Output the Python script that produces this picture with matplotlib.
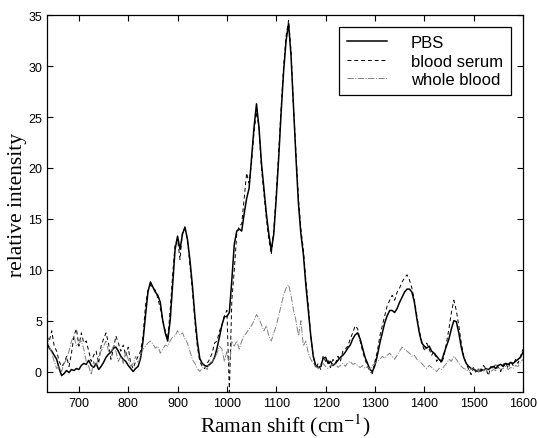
import matplotlib
matplotlib.use("Agg")
import matplotlib.pyplot as plt
import numpy as np

# Raman shift grid, 5 cm^-1 steps (635 .. 1600)
shift = np.arange(635, 1601, 5)

pbs = [
    2.8, 2.3, 2.0, 1.6, 1.2, 0.3, -0.4, -0.2, 0.1, -0.1,      # 635
    0.2, 0.1, 0.3, 0.2, 0.6, 0.8, 0.7, 1.1, 0.6, 0.4,         # 685
    0.8, 0.2, 0.5, 0.9, 1.4, 1.7, 1.9, 2.3, 2.4, 2.0,         # 735
    1.5, 1.2, 1.0, 0.6, 0.3, 0.0, 0.3, 0.5, 1.3, 3.0,         # 785
    5.5, 7.8, 8.8, 8.3, 7.8, 7.5, 6.8, 5.0, 3.8, 3.0,         # 835
    5.0, 8.5, 12.0, 13.3, 12.0, 13.5, 14.2, 13.0, 11.0, 8.5,  # 885
    5.5, 3.0, 1.3, 0.8, 0.6, 0.5, 0.7, 0.9, 1.4, 2.3,         # 935
    3.4, 4.6, 5.4, 5.4, 5.8, 9.0, 12.5, 13.8, 14.0, 13.8,     # 985
    15.5, 17.0, 18.0, 21.0, 24.0, 26.3, 24.0, 20.5, 18.0, 15.5,  # 1035
    13.5, 11.9, 13.5, 17.0, 21.0, 25.5, 29.5, 32.5, 34.2, 31.0,  # 1085
    26.0, 21.0, 16.5, 13.5, 11.5, 8.5, 6.0, 3.5, 1.5, 0.6,    # 1135
    0.4, 0.5, 1.3, 1.4, 0.8, 1.0, 0.6, 0.8, 1.1, 1.4,         # 1185
    1.6, 1.9, 2.3, 2.6, 3.2, 3.6, 3.8, 3.2, 2.3, 1.4,         # 1235
    0.8, 0.2, 0.0, 0.6, 1.6, 2.8, 3.8, 4.8, 5.5, 6.0,         # 1285
    6.0, 5.8, 6.2, 6.8, 7.3, 7.8, 8.1, 8.1, 7.8, 6.8,         # 1335
    5.2, 3.8, 2.8, 2.5, 2.3, 2.5, 2.0, 1.8, 1.5, 1.2,         # 1385
    1.0, 1.8, 2.5, 3.2, 4.2, 5.0, 4.9, 3.8, 2.4, 1.4,         # 1435
    0.8, 0.5, 0.3, 0.2, 0.1, 0.0, 0.2, 0.1, 0.3, 0.2,         # 1485
    0.4, 0.5, 0.3, 0.6, 0.7, 0.5, 0.8, 0.7, 0.9, 0.8,         # 1535
    1.0, 1.2, 1.4, 1.9,                                       # 1585
]

serum = [
    3.5, 3.0, 4.0, 2.5, 2.0, 1.0, 0.5, 0.8, 1.5, 0.5,
    1.8, 3.5, 4.2, 2.5, 3.8, 2.8, 3.0, 2.0, 1.0, 1.6,
    2.0, 0.8, 2.5, 3.2, 3.8, 2.8, 1.2, 2.2, 3.5, 2.8,
    2.0, 2.6, 1.5, 2.4, 0.8, 0.3, 1.0, 1.5, 2.0, 3.5,
    6.5, 8.0, 8.5, 8.2, 8.0, 7.2, 6.2, 5.0, 4.0, 3.2,
    6.0, 9.5, 12.5, 13.0, 11.0, 13.8, 14.0, 13.0, 10.5, 8.0,
    5.0, 2.5, 1.0, 0.5, 0.3, 0.8, 1.2, 1.8, 2.8, 3.0,
    4.0, 4.5, 5.5, 6.0, -2.0, 7.0, 10.0, 13.5, 14.3, 14.5,
    17.0, 19.5, 18.5, 20.5, 23.5, 25.5, 24.0, 20.0, 17.5, 15.0,
    13.0, 11.5, 14.0, 17.5, 21.5, 26.0, 30.0, 33.0, 34.5, 31.5,
    26.0, 21.5, 17.0, 14.0, 12.0, 9.0, 6.5, 3.5, 1.5, 0.3,
    0.8, 0.2, 1.5, 1.0, 1.2, 0.4, 1.2, 0.8, 1.5, 1.0,
    2.0, 2.2, 2.5, 3.2, 3.8, 4.5, 4.2, 3.0, 2.0, 1.2,
    0.5, 0.0, -0.2, 1.0, 2.0, 3.5, 4.5, 5.5, 6.5, 7.0,
    7.5, 7.0, 7.8, 8.2, 8.8, 9.2, 9.5, 9.0, 8.2, 7.0,
    5.5, 4.0, 3.0, 2.0, 2.8, 2.2, 1.6, 2.0, 1.0, 1.3,
    0.8, 1.5, 2.8, 4.2, 5.8, 7.0, 6.0, 4.5, 2.8, 1.5,
    0.8, 0.2, -0.3, 0.5, -0.2, 0.3, 0.0, 0.6, 0.3, -0.4,
    0.5, 0.2, 0.8, 0.4, 0.0, 0.7, 0.9, 0.3, 1.0, 0.6,
    1.2, 0.8, 1.5, 2.2,
]

whole_blood = [
    3.5, 2.5, 1.8, 1.0, 0.3, 0.5, 0.0, 0.8, 1.2, 2.0,
    3.0, 3.5, 2.5, 2.8, 3.0, 2.2, 1.0, 0.5, -0.3, 1.0,
    0.5, 1.5, 2.0, 2.5, 3.0, 2.0, 1.8, 2.5, 2.0, 1.0,
    1.5, 0.8, 2.0, 1.2, 0.5, 0.8, 1.5, 0.8, 1.5, 2.2,
    2.5, 2.8, 3.0, 2.7, 2.3, 2.5, 1.8, 2.2, 2.6, 2.5,
    3.0, 3.4, 3.5, 4.0, 3.6, 3.8, 3.2, 2.8, 2.0, 1.2,
    0.8, 0.3, 0.0, 0.3, 0.5, 0.2, 0.8, 1.0, 1.3, 1.8,
    2.5, 2.2, 1.0, 2.0, 0.5, 3.0, 2.5, 3.0, 2.2, 3.0,
    3.5, 3.8, 4.2, 4.5, 5.0, 5.6, 5.2, 4.6, 4.0, 4.5,
    3.5, 3.0, 3.8, 4.5, 5.5, 6.5, 7.5, 8.2, 8.5, 7.5,
    6.0, 5.0, 3.5, 5.0, 2.5, 3.0, 1.8, 1.2, 0.8, 0.5,
    0.3, 0.6, 0.8, 0.5, 0.3, 0.6, 0.7, 0.8, 0.4, 0.6,
    0.8, 0.5, 0.9, 1.0, 0.7, 0.8, 0.6, 0.4, 0.6, 0.3,
    0.5, 0.2, 0.6, 0.8, 1.0, 1.2, 1.5, 1.3, 1.6, 1.8,
    1.5, 1.2, 1.6, 2.0, 2.4, 2.2, 2.0, 1.8, 1.5, 1.6,
    1.2, 1.0, 0.8, 0.5, 0.3, 0.6, 0.4, 0.2, 0.0, 0.3,
    0.2, 0.5, 0.8, 1.2, 1.0, 1.5, 1.2, 0.8, 0.5, 0.3,
    0.2, 0.0, 0.3, 0.1, 0.2, 0.0, 0.4, 0.1, 0.2, 0.3,
    0.0, 0.2, 0.1, 0.4, 0.2, 0.3, 0.5, 0.2, 0.4, 0.3,
    0.6, 0.5, 0.9, 1.2,
]

x_ticks = [700, 800, 900, 1000, 1100, 1200, 1300, 1400, 1500, 1600]
y_ticks = [0, 5, 10, 15, 20, 25, 30, 35]

plt.rcParams["mathtext.fontset"] = "stix"

fig = plt.figure(figsize=(5.38, 4.39), dpi=100)
ax = fig.add_axes([0.087, 0.105, 0.885, 0.858])

ax.plot(shift, pbs, "-", color="black", lw=1.1, label="PBS")
ax.plot(shift, serum, "--", color="black", lw=0.7, dashes=(4, 3), label="blood serum")
ax.plot(shift, whole_blood, "-.", color="0.5", lw=0.7, label="whole blood")

ax.set_xlim(635, 1600)
ax.set_ylim(-2, 35)
ax.set_xticks(x_ticks)
ax.set_yticks(y_ticks)
ax.tick_params(direction="in", top=True, right=True, length=4, width=0.8,
               labelsize=9)
for lab in ax.get_xticklabels() + ax.get_yticklabels():
    lab.set_family("Liberation Sans")
for s in ax.spines.values():
    s.set_linewidth(0.9)

ax.set_xlabel("Raman shift (cm$^{-1}$)", family="Liberation Serif", fontsize=15.5,
              labelpad=2)
ax.set_ylabel("relative intensity", family="Liberation Serif", fontsize=15.5,
              labelpad=1)

leg = ax.legend(loc="upper right", prop={"family": "Liberation Sans", "size": 12},
                fancybox=False, edgecolor="black", framealpha=1,
                borderpad=0.5, labelspacing=0.2, handlelength=2.35,
                handletextpad=1.45, borderaxespad=0.7)
leg.get_frame().set_linewidth(0.9)

fig.savefig("out.png", dpi=100)
